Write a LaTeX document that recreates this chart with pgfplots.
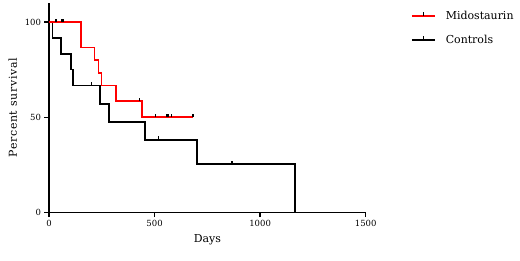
\documentclass[border=0pt]{standalone}
\usepackage{fontspec}
\setmainfont{DejaVu Serif}
\usepackage{pgfplots}
\pgfplotsset{compat=1.18}
\pgfdeclareplotmark{cens}{\pgfpathmoveto{\pgfpoint{0pt}{0pt}}\pgfpathlineto{\pgfpoint{0pt}{3.5bp}}\pgfusepathqstroke}
\begin{document}
\begin{tikzpicture}
\begin{axis}[
  name=ax,
  scale only axis,
  width=316.7bp, height=209.5bp,
  xmin=0, xmax=1500, ymin=0, ymax=110,
  axis x line=bottom, axis y line=left,
  axis line style={-, line width=1.4pt},
  xtick={0,500,1000,1500}, ytick={0,50,100},
  tick align=outside, major tick length=4.5bp,
  tick style={line width=1.3pt, black},
  /pgf/number format/assume math mode=true,
  /pgf/number format/set thousands separator={},
  tick label style={font=\fontsize{8.5}{10}\selectfont},
  xlabel={Days}, ylabel={\addfontfeature{LetterSpace=6}Percent survival},
  label style={font=\fontsize{11}{13}\selectfont},
  xlabel style={yshift=-1bp},
  ylabel style={yshift=1bp},
  clip=false,
  legend style={draw=none, fill=none, at={(axis cs:1700,108)}, anchor=north west,
    font=\fontsize{11}{13}\selectfont, row sep=10bp,
    /tikz/every odd column/.append style={column sep=8bp}},
  legend cell align=left,
]
\addlegendimage{legend image code/.code={\draw[red,line width=1.6pt] (0bp,0.2bp) -- (23bp,0.2bp);
     \draw[black,line width=1.2pt] (11.5bp,0bp) -- (11.5bp,3.5bp);}}
\addlegendentry{Midostaurin}
\addlegendimage{legend image code/.code={\draw[black,line width=1.7pt] (0bp,-0.3bp) -- (23bp,-0.3bp);
     \draw[black,line width=1.2pt] (11.5bp,0bp) -- (11.5bp,3.5bp);}}
\addlegendentry{Controls}
\addplot[const plot, black, line width=1.6pt, mark=none, forget plot] coordinates {
 (0,100) (16,91.7) (57,83.3) (103,75) (115,66.7) (242,57.1) (285,47.6) (456,38.1) (701,25.4) (1164,0)};
\addplot[const plot, red, line width=1.6pt, mark=none, forget plot] coordinates {
 (0,100) (152,86.7) (215,80) (234,73.3) (248,66.7) (318,58.5) (440,50.1) (682,50.1)};
\addplot[only marks, mark=cens, mark options={black, line width=1.2pt}, forget plot] coordinates {
 (33,100) (62,100) (65,100) (68,100) (427,58.5) (503,50.1) (559,50.1) (563,50.1) (566,50.1) (579,50.1) (680,50.1) (684,50.1)
 (201,66.7) (519,38.1) (867,25.4)};
\end{axis}
\useasboundingbox (ax.south west) ++(-49bp,-48.5bp) rectangle ++(520bp,261bp);
\end{tikzpicture}
\end{document}
